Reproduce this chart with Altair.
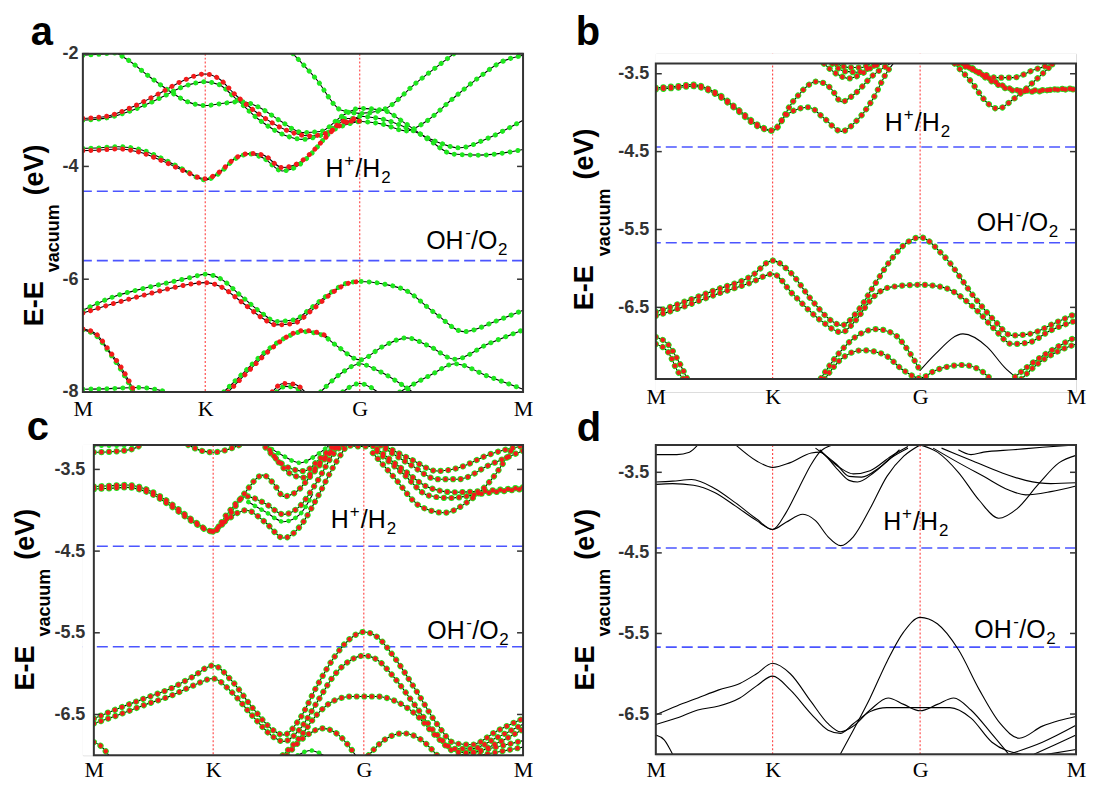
import altair as alt
import pandas as pd

# ---------------- axes / reference levels ----------------
KX, GX = 0.278, 0.629
X_TICKS = [0.0, KX, GX, 1.0]
X_NAMES = ["M", "K", "G", "M"]
H2_LEVEL = -4.44
O2_LEVEL = -5.67

A_YDOM = [-8.0, -2.0]
A_YTICKS = [-8, -6, -4, -2]
B_YDOM = [-7.42, -3.37]
C_YDOM = [-7.0, -3.2]
D_YDOM = [-7.0, -3.16]
BCD_YTICKS = [-6.5, -5.5, -4.5, -3.5]

# ---------------- panel a bands (k, E) ----------------
A_R1 = [(0, -3.15), (0.06, -3.1), (0.12, -2.92), (0.18, -2.68), (0.23, -2.47), (0.278, -2.36), (0.31, -2.45),
        (0.345, -2.72), (0.405, -3.1), (0.46, -3.35), (0.515, -3.46), (0.55, -3.42), (0.59, -3.25), (0.629, -3.11)]
A_G1 = [(0, -3.18), (0.06, -3.13), (0.12, -2.98), (0.18, -2.77), (0.23, -2.58), (0.278, -2.5), (0.31, -2.55),
        (0.345, -2.78), (0.405, -3.2), (0.46, -3.45), (0.5, -3.52), (0.54, -3.45), (0.59, -3.28), (0.629, -3.2)]
A_G2 = [(0, -2.03), (0.04, -2.01), (0.072, -1.99), (0.1, -2.1), (0.15, -2.4), (0.2, -2.68), (0.24, -2.86),
        (0.278, -2.92), (0.32, -2.88), (0.36, -2.85), (0.4, -2.95), (0.45, -3.2), (0.5, -3.4), (0.54, -3.38),
        (0.59, -3.1), (0.629, -2.97), (0.68, -3.0), (0.735, -3.25), (0.79, -3.55), (0.84, -3.78), (0.9, -3.8),
        (1.0, -3.7)]
A_G3 = [(0.477, -2.0), (0.53, -2.45), (0.586, -3.0), (0.629, -3.06), (0.68, -3.0), (0.76, -2.5), (0.843, -2.0)]
A_G4 = [(0.629, -3.11), (0.68, -3.16), (0.74, -3.33), (0.8, -3.55), (0.855, -3.67), (0.92, -3.5), (1.0, -3.18)]
A_G5 = [(0.629, -3.2), (0.68, -3.25), (0.735, -3.37), (0.78, -3.2), (0.84, -2.8), (0.9, -2.42), (0.95, -2.15),
        (1.0, -2.03)]
A_CBG = [(0, -3.68), (0.04, -3.67), (0.08, -3.65), (0.13, -3.7), (0.18, -3.86), (0.23, -4.06), (0.278, -4.24),
         (0.31, -4.12), (0.345, -3.87), (0.379, -3.78), (0.41, -3.85), (0.453, -4.08), (0.49, -3.98),
         (0.516, -3.8), (0.555, -3.45), (0.593, -3.15), (0.629, -3.15)]
A_CBR = [(0, -3.72), (0.04, -3.71), (0.08, -3.69), (0.13, -3.75), (0.18, -3.9), (0.23, -4.08), (0.278, -4.22),
         (0.31, -4.1), (0.345, -3.86), (0.379, -3.77), (0.41, -3.8), (0.453, -4.02), (0.49, -3.94),
         (0.516, -3.78), (0.555, -3.46), (0.593, -3.2), (0.629, -3.2)]
A_V1 = [(0, -6.55), (0.07, -6.31), (0.14, -6.16), (0.2, -6.05), (0.25, -5.96), (0.278, -5.91), (0.31, -5.98),
        (0.36, -6.3), (0.41, -6.62), (0.438, -6.75), (0.48, -6.72), (0.52, -6.5), (0.57, -6.2), (0.6, -6.07),
        (0.629, -6.04), (0.68, -6.08), (0.734, -6.2), (0.8, -6.6), (0.866, -6.93), (0.936, -6.75), (1.0, -6.55)]
A_V2 = [(0, -6.6), (0.07, -6.43), (0.14, -6.28), (0.2, -6.16), (0.25, -6.08), (0.278, -6.06), (0.31, -6.12),
        (0.36, -6.4), (0.41, -6.7), (0.438, -6.81), (0.48, -6.78), (0.52, -6.55), (0.57, -6.22), (0.6, -6.08),
        (0.629, -6.04)]
A_V3 = [(0.32, -8.0), (0.37, -7.62), (0.42, -7.25), (0.47, -7.0), (0.5, -6.93), (0.54, -6.98), (0.58, -7.2),
        (0.629, -7.43), (0.68, -7.2), (0.735, -7.04), (0.79, -7.2), (0.845, -7.42), (0.92, -7.15), (1.0, -6.9)]
A_V3R = [(0.33, -8.0), (0.38, -7.6), (0.43, -7.22), (0.47, -6.99), (0.5, -6.91), (0.54, -6.96), (0.56, -7.05)]
A_V4 = [(0.54, -8.0), (0.59, -7.65), (0.629, -7.5), (0.67, -7.62), (0.749, -8.0)]
A_V5 = [(0.72, -8.0), (0.79, -7.7), (0.845, -7.5), (0.92, -7.72), (1.0, -7.95)]
A_V6 = [(0.59, -8.0), (0.629, -7.85), (0.67, -8.0)]
A_V7R = [(0.43, -8.0), (0.455, -7.85), (0.48, -7.86), (0.505, -8.0)]
A_V7G = [(0.44, -8.0), (0.46, -7.9), (0.48, -7.92), (0.5, -8.0)]
A_V8G = [(0, -6.9), (0.03, -7.0), (0.06, -7.3), (0.09, -7.65), (0.115, -8.0)]
A_V8R = [(0, -6.88), (0.03, -6.97), (0.06, -7.27), (0.09, -7.6), (0.118, -8.0)]
A_V9 = [(0, -7.95), (0.06, -7.94), (0.12, -7.92), (0.17, -7.96), (0.19, -8.0)]

# ---------------- panel b bands ----------------
B_C1 = [(0, -3.68), (0.05, -3.66), (0.087, -3.64), (0.145, -3.75), (0.194, -3.95), (0.244, -4.16), (0.278, -4.23),
        (0.326, -3.86), (0.384, -3.6), (0.417, -3.69), (0.442, -3.86), (0.475, -3.75), (0.517, -3.52),
        (0.558, -3.37)]
B_C2 = [(0, -3.7), (0.05, -3.68), (0.087, -3.66), (0.145, -3.77), (0.194, -3.97), (0.244, -4.18), (0.278, -4.23),
        (0.31, -4.03), (0.364, -3.93), (0.4, -4.07), (0.442, -4.24), (0.475, -4.12), (0.517, -3.82),
        (0.55, -3.48), (0.565, -3.37)]
B_C3 = [(0.4, -3.37), (0.43, -3.5), (0.46, -3.56), (0.49, -3.5), (0.52, -3.4), (0.54, -3.37)]
B_C4 = [(0.42, -3.37), (0.45, -3.47), (0.48, -3.48), (0.51, -3.42), (0.53, -3.37)]
B_C5 = [(0.43, -3.37), (0.46, -3.42), (0.49, -3.42), (0.51, -3.37)]
B_C6 = [(0.711, -3.37), (0.75, -3.6), (0.79, -3.88), (0.814, -3.95), (0.85, -3.83), (0.9, -3.6), (0.946, -3.37)]
B_C7 = [(0.72, -3.37), (0.77, -3.48), (0.81, -3.55), (0.85, -3.55), (0.9, -3.45), (0.95, -3.37)]
B_C8 = [(0.73, -3.37), (0.79, -3.55), (0.85, -3.7), (0.9, -3.73), (0.95, -3.7), (1.0, -3.69)]
B_C9 = [(0.74, -3.37), (0.8, -3.6), (0.86, -3.72), (0.92, -3.71), (1.0, -3.7)]
B_V1 = [(0, -6.56), (0.062, -6.44), (0.145, -6.27), (0.227, -6.1), (0.278, -5.9), (0.32, -6.05), (0.37, -6.4),
        (0.42, -6.68), (0.442, -6.73), (0.48, -6.55), (0.517, -6.24), (0.558, -5.9), (0.6, -5.66), (0.629, -5.6),
        (0.682, -5.82), (0.764, -6.41), (0.806, -6.67), (0.847, -6.86), (0.89, -6.84), (0.95, -6.7), (1.0, -6.58)]
B_V2 = [(0, -6.61), (0.062, -6.5), (0.145, -6.33), (0.227, -6.18), (0.278, -6.07), (0.326, -6.33), (0.393, -6.67),
        (0.442, -6.82), (0.475, -6.67), (0.517, -6.37), (0.558, -6.24), (0.629, -6.21), (0.682, -6.24),
        (0.764, -6.54), (0.806, -6.78), (0.847, -6.97), (0.888, -6.95), (0.938, -6.8), (1.0, -6.67)]
B_V3L = [(0.393, -7.41), (0.434, -7.1), (0.475, -6.88), (0.525, -6.78), (0.566, -6.84), (0.6, -7.05),
         (0.629, -7.31)]
B_V3K = [(0.629, -7.31), (0.665, -7.1), (0.731, -6.84), (0.789, -7.01), (0.83, -7.27), (0.855, -7.39)]
B_V4 = [(0.402, -7.42), (0.442, -7.16), (0.492, -7.05), (0.541, -7.1), (0.59, -7.31), (0.629, -7.41),
        (0.665, -7.31), (0.731, -7.24), (0.773, -7.31), (0.797, -7.42)]
B_V5 = [(0, -6.88), (0.03, -6.98), (0.055, -7.2), (0.075, -7.42)]
B_V6 = [(0, -6.97), (0.03, -7.08), (0.05, -7.3), (0.065, -7.42)]
B_V7 = [(0.855, -7.39), (0.905, -7.18), (0.955, -7.01), (1.0, -6.88)]
B_V8 = [(0.87, -7.42), (0.91, -7.22), (0.955, -7.07), (1.0, -6.97)]

# ---------------- panel c bands ----------------
C_C1 = [(0, -3.71), (0.04, -3.7), (0.076, -3.69), (0.13, -3.76), (0.18, -3.92), (0.23, -4.12), (0.278, -4.26),
        (0.31, -4.1), (0.35, -3.8), (0.394, -3.57), (0.42, -3.68), (0.442, -3.83), (0.47, -3.78), (0.51, -3.55),
        (0.55, -3.3), (0.57, -3.2)]
C_C2 = [(0, -3.74), (0.04, -3.73), (0.076, -3.72), (0.13, -3.79), (0.18, -3.95), (0.23, -4.14), (0.278, -4.26),
        (0.31, -4.05), (0.355, -3.83), (0.4, -3.92), (0.442, -4.05), (0.48, -3.95), (0.52, -3.65), (0.56, -3.3),
        (0.58, -3.2)]
C_C3 = [(0.278, -4.26), (0.31, -4.12), (0.355, -4.0), (0.4, -4.15), (0.442, -4.34), (0.48, -4.2), (0.52, -3.85),
        (0.56, -3.45), (0.59, -3.2)]
C_C4G = [(0.36, -3.9), (0.4, -4.02), (0.442, -4.14), (0.48, -4.05), (0.51, -3.8)]
C_C5R = [(0, -3.29), (0.05, -3.28), (0.09, -3.25), (0.11, -3.2)]
C_C5G = [(0, -3.21), (0.06, -3.21), (0.1, -3.2)]
C_C6 = [(0.22, -3.2), (0.25, -3.27), (0.278, -3.29), (0.31, -3.26), (0.34, -3.2)]
C_C7G = [(0.4, -3.2), (0.44, -3.33), (0.48, -3.42), (0.52, -3.32), (0.55, -3.2)]
C_C8 = [(0.4, -3.23), (0.45, -3.47), (0.49, -3.52), (0.53, -3.35), (0.56, -3.2)]
C_C9 = [(0.41, -3.26), (0.46, -3.56), (0.49, -3.6), (0.53, -3.4), (0.57, -3.2)]
C_C10 = [(0.58, -3.2), (0.629, -3.22), (0.68, -3.2)]
C_C11 = [(0.68, -3.22), (0.74, -3.38), (0.8, -3.52), (0.85, -3.48), (0.92, -3.32), (1.0, -3.21)]
C_C12 = [(0.68, -3.25), (0.74, -3.45), (0.8, -3.62), (0.85, -3.62), (0.92, -3.45), (1.0, -3.27)]
C_C13 = [(0.66, -3.25), (0.72, -3.5), (0.78, -3.72), (0.84, -3.78), (0.92, -3.76), (1.0, -3.72)]
C_C14 = [(0.66, -3.28), (0.72, -3.55), (0.78, -3.82), (0.83, -3.85), (0.9, -3.8), (1.0, -3.74)]
C_C15 = [(0.65, -3.3), (0.7, -3.6), (0.76, -3.95), (0.817, -4.03), (0.87, -3.9), (0.93, -3.6), (0.98, -3.2)]
C_V1 = [(0, -6.55), (0.06, -6.42), (0.12, -6.3), (0.18, -6.18), (0.23, -6.04), (0.278, -5.9), (0.32, -6.08),
        (0.37, -6.42), (0.42, -6.7), (0.442, -6.75), (0.48, -6.55), (0.52, -6.15), (0.56, -5.8), (0.6, -5.56),
        (0.629, -5.49), (0.66, -5.55), (0.7, -5.8), (0.75, -6.2), (0.8, -6.62), (0.84, -6.85), (0.88, -6.87),
        (0.94, -6.7), (1.0, -6.55)]
C_V2 = [(0, -6.61), (0.06, -6.5), (0.12, -6.38), (0.18, -6.27), (0.23, -6.15), (0.278, -6.06), (0.32, -6.22),
        (0.37, -6.52), (0.42, -6.78), (0.442, -6.83), (0.48, -6.68), (0.52, -6.35), (0.56, -6.02), (0.6, -5.83),
        (0.629, -5.78), (0.66, -5.83), (0.7, -6.05), (0.75, -6.4), (0.8, -6.75), (0.84, -6.92), (0.88, -6.92),
        (0.94, -6.78), (1.0, -6.62)]
C_V3 = [(0.44, -7.0), (0.48, -6.78), (0.52, -6.5), (0.56, -6.33), (0.6, -6.28), (0.629, -6.28), (0.66, -6.28),
        (0.7, -6.33), (0.75, -6.5), (0.8, -6.78), (0.84, -6.95), (0.88, -6.97), (0.94, -6.85), (1.0, -6.68)]
C_V4 = [(0.45, -7.0), (0.49, -6.78), (0.534, -6.67), (0.57, -6.75), (0.61, -7.0)]
C_V5 = [(0.64, -7.0), (0.68, -6.8), (0.721, -6.73), (0.76, -6.8), (0.8, -7.0)]
C_V6G = [(0.475, -7.0), (0.505, -6.94), (0.535, -7.0)]
C_V7 = [(0, -6.84), (0.015, -6.88), (0.035, -7.0)]
C_V8 = [(0.85, -7.0), (0.92, -6.92), (1.0, -6.82)]
C_V9 = [(0.9, -7.0), (0.95, -6.95), (1.0, -6.9)]

# ---------------- panel d bands ----------------
D_C1 = [(0, -3.62), (0.04, -3.61), (0.085, -3.59), (0.14, -3.7), (0.19, -3.88), (0.24, -4.08), (0.278, -4.21),
        (0.31, -4.12), (0.35, -4.02), (0.38, -4.1), (0.41, -4.3), (0.44, -4.41), (0.47, -4.3), (0.51, -3.95),
        (0.55, -3.55), (0.59, -3.3), (0.629, -3.16)]
D_C2 = [(0, -3.65), (0.04, -3.64), (0.09, -3.66), (0.14, -3.75), (0.19, -3.92), (0.24, -4.1), (0.278, -4.21),
        (0.31, -4.0), (0.34, -3.7), (0.37, -3.4), (0.39, -3.25), (0.42, -3.16)]
D_C3 = [(0, -3.28), (0.05, -3.28), (0.08, -3.25), (0.1, -3.16)]
D_C4 = [(0.19, -3.16), (0.24, -3.36), (0.278, -3.44), (0.32, -3.38), (0.37, -3.26), (0.39, -3.25), (0.43, -3.45),
        (0.46, -3.6), (0.48, -3.62), (0.52, -3.5), (0.56, -3.32), (0.6, -3.2)]
D_C5 = [(0.38, -3.2), (0.43, -3.4), (0.46, -3.55), (0.49, -3.56), (0.53, -3.45), (0.58, -3.22)]
D_C6 = [(0.39, -3.22), (0.44, -3.45), (0.47, -3.52), (0.51, -3.48), (0.56, -3.3), (0.6, -3.18)]
D_C7 = [(0.629, -3.16), (0.67, -3.25), (0.72, -3.5), (0.77, -3.85), (0.816, -4.07), (0.86, -3.95), (0.91, -3.65),
        (0.96, -3.38), (1.0, -3.29)]
D_C8 = [(0.66, -3.2), (0.72, -3.38), (0.78, -3.55), (0.84, -3.72), (0.88, -3.78), (0.94, -3.74), (1.0, -3.67)]
D_C9 = [(0.68, -3.2), (0.75, -3.35), (0.82, -3.5), (0.88, -3.6), (0.94, -3.64), (1.0, -3.63)]
D_C10 = [(0.72, -3.22), (0.75, -3.28), (0.78, -3.25), (0.85, -3.22), (0.92, -3.19), (1.0, -3.16)]
D_V1 = [(0, -6.51), (0.05, -6.4), (0.1, -6.3), (0.15, -6.2), (0.2, -6.12), (0.24, -6.0), (0.278, -5.87),
        (0.32, -6.0), (0.37, -6.35), (0.41, -6.62), (0.44, -6.72), (0.47, -6.65), (0.51, -6.45), (0.553, -6.3),
        (0.59, -6.38), (0.629, -6.46), (0.67, -6.38), (0.709, -6.3), (0.75, -6.45), (0.8, -6.75), (0.84, -7.0)]
D_V2 = [(0, -6.63), (0.05, -6.55), (0.1, -6.45), (0.15, -6.4), (0.2, -6.3), (0.24, -6.15), (0.278, -6.03),
        (0.32, -6.2), (0.37, -6.5), (0.41, -6.7), (0.44, -6.74), (0.47, -6.62), (0.51, -6.47), (0.55, -6.42),
        (0.629, -6.42), (0.7, -6.42), (0.75, -6.55), (0.8, -6.85), (0.87, -7.0)]
D_V3 = [(0.439, -7.0), (0.47, -6.7), (0.51, -6.3), (0.55, -5.85), (0.59, -5.48), (0.629, -5.3), (0.67, -5.38),
        (0.72, -5.7), (0.77, -6.2), (0.82, -6.62), (0.865, -6.8), (0.92, -6.65), (0.96, -6.58), (1.0, -6.53)]
D_V4 = [(0.84, -7.0), (0.92, -6.85), (1.0, -6.64)]
D_V5 = [(0.9, -7.0), (0.95, -6.88), (1.0, -6.76)]
D_V6 = [(0.93, -7.0), (1.0, -6.94)]
D_V7 = [(0, -6.76), (0.02, -6.82), (0.04, -7.0)]

A_BANDS = [(A_G1, "g"), (A_R1, "r"), (A_G2, "g"), (A_G3, "g"), (A_G4, "g"), (A_G5, "g"), (A_CBR, "r"),
           (A_CBG, "g"), (A_V2, "r"), (A_V1, "g"), (A_V3R, "r"), (A_V3, "g"), (A_V4, "g"), (A_V5, "g"),
           (A_V6, "g"), (A_V7R, "r"), (A_V7G, "g"), (A_V8R, "r"), (A_V8G, "g"), (A_V9, "g")]
B_BANDS = [(b, "rg") for b in [B_C1, B_C2, B_C3, B_C4, B_C5, B_C6, B_C7, B_C8, B_C9, B_V1, B_V2, B_V3L, B_V4,
                                B_V5, B_V6, B_V7, B_V8]] + [(B_V3K, "k")]
C_BANDS = [(b, "rg") for b in [C_C1, C_C2, C_C3, C_C5R, C_C6, C_C8, C_C9, C_C10, C_C11, C_C12, C_C13, C_C14,
                                C_C15, C_V1, C_V2, C_V3, C_V4, C_V5, C_V7, C_V8, C_V9]] + \
          [(b, "g") for b in [C_C4G, C_C5G, C_C7G, C_V6G]]
D_BANDS = [(b, "k") for b in [D_C1, D_C2, D_C3, D_C4, D_C5, D_C6, D_C7, D_C8, D_C9, D_C10, D_V1, D_V2, D_V3,
                               D_V4, D_V5, D_V6, D_V7]]

RED = "#f21b1b"
GREEN = "#1ee61e"
FRAME = "#333333"
SANS = "Liberation Sans"
SERIF = "Liberation Serif"

X_EXPR = ("datum.value < 0.1 ? '%s' : datum.value < 0.45 ? '%s' : datum.value < 0.9 ? '%s' : '%s'"
          % tuple(X_NAMES))
ONE = pd.DataFrame({"z": [0]})


def panel(bands, ydom, yticks, yfmt, W, H, rect, ypad, yoff, xpad, letter, letter_xy, title_x, title_cy,
          h_xy, o_xy, dot_w):
    x0, x1, y0, y1 = rect
    rows = []
    for i, (pts, sty) in enumerate(bands):
        for x, e in pts:
            rows.append({"band": i, "x": x, "e": e, "sty": sty})
    df = pd.DataFrame(rows)
    xs = alt.Scale(domain=[0, 1], range=[x0, x1], nice=False, zero=False)
    ys = alt.Scale(domain=ydom, range=[y1, y0], nice=False, zero=False)
    xaxis = alt.Axis(values=X_TICKS, labelExpr=X_EXPR, ticks=False, domain=False, grid=False,
                     labelFont=SERIF, labelFontSize=22, labelColor="black", labelPadding=xpad,
                     offset=-(H - y1), zindex=2,
                     labelFlush=False, labelOverlap=False, title=None)
    yaxis = alt.Axis(values=yticks, labelExpr="'-' + format(abs(datum.value), '%s')" % yfmt, ticks=False,
                     domain=False, grid=False, labelFont=SANS, labelFontSize=18, labelFontWeight="bold",
                     labelColor="#333333", labelPadding=ypad, offset=yoff, labelOverlap=False, zindex=2,
                     title=None)

    def X(f):
        return alt.X(f + ":Q", scale=xs, axis=xaxis)

    def Y(f):
        return alt.Y(f + ":Q", scale=ys, axis=yaxis)

    layers = []
    layers.append(alt.Chart(pd.DataFrame({"k": [KX, GX]})).mark_rule(
        color="#ff4040", strokeWidth=1.1, strokeDash=[2, 2]).encode(x=X("k")))
    layers.append(alt.Chart(pd.DataFrame({"lv": [H2_LEVEL, O2_LEVEL]})).mark_rule(
        color="#4b55ff", strokeWidth=1.6, strokeDash=[11, 5]).encode(y=Y("lv")))
    base = alt.Chart(df)
    enc = dict(x=X("x"), y=Y("e"), detail="band:N")
    layers.append(base.mark_line(color="black", strokeWidth=1.1, interpolate="monotone", clip=True).encode(**enc))
    gap = dot_w + 3
    for sel, col, w in [(["rg"], GREEN, dot_w + 1.6), (["g"], GREEN, dot_w), (["r", "rg"], RED, dot_w)]:
        sub = df[df["sty"].isin(sel)]
        if len(sub):
            layers.append(alt.Chart(sub).mark_line(
                color=col, strokeWidth=w, strokeDash=[0.01, gap], strokeCap="round",
                interpolate="monotone", clip=True).encode(**enc))
    # white masks outside the frame (view is larger than the frame in some panels)
    for mx0, mx1, my0, my1 in [(0, x0, 0, H), (x1, W, 0, H), (0, W, 0, y0), (0, W, y1, H)]:
        if mx1 > mx0 and my1 > my0:
            layers.append(alt.Chart(ONE).mark_rect(color="white").encode(
                x=alt.value(mx0), x2=alt.value(mx1), y=alt.value(my0), y2=alt.value(my1)))
    # inner ticks
    tdf = pd.DataFrame({"t": yticks})
    layers.append(alt.Chart(tdf).mark_rule(color=FRAME, strokeWidth=1.5).encode(
        y=Y("t"), x=alt.value(x0), x2=alt.value(x0 + 6)))
    layers.append(alt.Chart(tdf).mark_rule(color=FRAME, strokeWidth=1.5).encode(
        y=Y("t"), x=alt.value(x1 - 6), x2=alt.value(x1)))
    # frame
    layers.append(alt.Chart(ONE).mark_rect(filled=False, stroke=FRAME, strokeWidth=2).encode(
        x=alt.value(x0), x2=alt.value(x1), y=alt.value(y0), y2=alt.value(y1)))

    # reaction level labels
    def label(parts, pos):
        out = []
        for txt, dx, dy, fs in parts:
            out.append(alt.Chart(pd.DataFrame({"x": [pos[0]], "e": [pos[1]]})).mark_text(
                text=txt, dx=dx, dy=dy, fontSize=fs, font=SANS, align="left", baseline="alphabetic",
                color="black").encode(x=X("x"), y=Y("e")))
        return out
    layers += label([("H", 0, 0, 25), ("+", 19, -11, 17), ("/H", 30, 0, 25), ("2", 56, 6, 17)], h_xy)
    layers += label([("OH", 0, 0, 25), ("-", 39, -11, 17), ("/O", 45, 0, 25), ("2", 72, 6, 17)], o_xy)
    # y title with subscript
    fs_main, fs_sub, g = 27, 18, 9
    w1, w2, w3 = 1.667 * fs_main, 3.78 * fs_sub, 1.889 * fs_main
    total = w1 + g + w2 + g + w3
    ys0 = title_cy + total / 2
    for txt, xo, yy, fs in [("E-E", title_x[0], ys0, fs_main), ("vacuum", title_x[1], ys0 - w1 - g, fs_sub),
                            ("(eV)", title_x[0], ys0 - w1 - g - w2 - g, fs_main)]:
        layers.append(alt.Chart(ONE).mark_text(text=txt, angle=270, align="left", baseline="middle",
                                               fontSize=fs, fontWeight="bold", font=SANS, color="black").encode(
            x=alt.value(xo), y=alt.value(yy)))
    layers.append(alt.Chart(ONE).mark_text(text=letter, fontSize=40, fontWeight="bold", font=SANS,
                                           align="center", baseline="alphabetic", color="black").encode(
        x=alt.value(letter_xy[0]), y=alt.value(letter_xy[1])))
    return alt.layer(*layers).properties(width=W, height=H)


pa = panel(A_BANDS, A_YDOM, A_YTICKS, ".0f", 441, 339, (0, 441, 0, 339), 5, 0, 7, "a", (-41, -9), (-48, -29),
           182, (0.551, -4.19), (0.78, -5.46), 5)
pb = panel(B_BANDS, B_YDOM, BCD_YTICKS, ".1f", 421, 339, (0, 421, 10, 326), 7, 0, 8, "b", (-68, -9),
           (-71, -51), 166, (0.545, -4.24), (0.764, -5.52), 4.6)
pc = panel(C_BANDS, C_YDOM, BCD_YTICKS, ".1f", 441, 311, (11, 441, 0, 311), 9, -11, 4, "c", (-45, -5),
           (-57, -38), 155, (0.552, -4.22), (0.777, -5.58), 4.6)
pd_ = panel(D_BANDS, D_YDOM, BCD_YTICKS, ".1f", 421, 311, (0, 421, 0, 310), 7, 0, 5, "d", (-67, -4),
            (-70, -51), 155, (0.541, -4.21), (0.758, -5.56), 4.6)

chart = alt.concat(pa, pb, pc, pd_, columns=2, spacing={"row": 53, "column": 133}, bounds="flush").properties(
    padding={"left": 3, "top": 3, "right": 0, "bottom": 0}
).configure_view(stroke=None).configure(background="white")

chart.save("out.html", embed_options={"renderer": "svg", "actions": False})
